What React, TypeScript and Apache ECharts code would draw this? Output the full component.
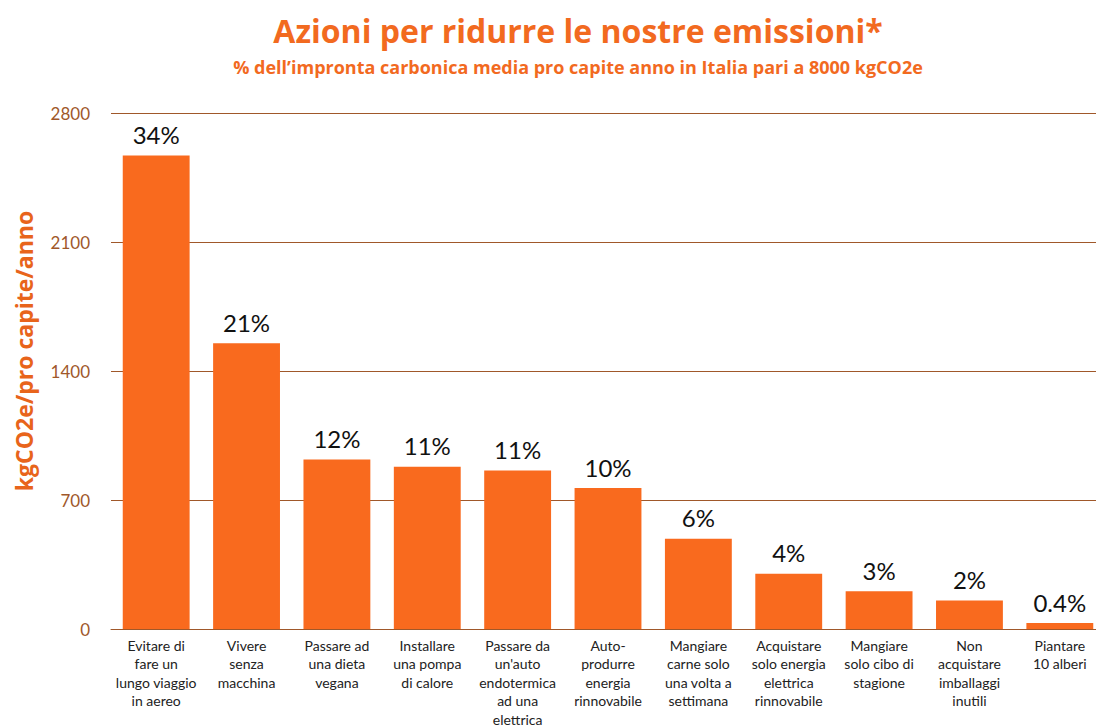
import React, { useEffect, useRef } from "react";
import * as echarts from "echarts";

const categories = [
  "Evitare di\nfare un\nlungo viaggio\nin aereo",
  "Vivere\nsenza\nmacchina",
  "Passare ad\nuna dieta\nvegana",
  "Installare\nuna pompa\ndi calore",
  "Passare da\nun'auto\nendotermica\nad una\nelettrica",
  "Auto-\nprodurre\nenergia\nrinnovabile",
  "Mangiare\ncarne solo\nuna volta a\nsettimana",
  "Acquistare\nsolo energia\nelettrica\nrinnovabile",
  "Mangiare\nsolo cibo di\nstagione",
  "Non\nacquistare\nimballaggi\ninutili",
  "Piantare\n10 alberi",
];
const values = [2570, 1550, 920, 880, 860, 765, 490, 300, 205, 155, 32];
const percentLabels = ["34%", "21%", "12%", "11%", "11%", "10%", "6%", "4%", "3%", "2%", "0.4%"];
const yTicks = [0, 700, 1400, 2100, 2800];

const ORANGE = "#F96A1E";
const TITLE_ORANGE = "#F26A1F";
const BROWN = "#A0582A";

export default function App() {
  const ref = useRef<HTMLDivElement>(null);
  useEffect(() => {
    document.body.style.margin = "0";
    document.body.style.overflow = "hidden";
    if (!ref.current) return;
    const chart = echarts.init(ref.current, undefined, { renderer: "svg" });
    chart.setOption({
      animation: false,
      graphic: [
        {
          type: "text",
          x: 578,
          y: 30,
          style: {
            text: "Azioni per ridurre le nostre emissioni*",
            align: "center",
            verticalAlign: "middle",
            fontFamily: "Open Sans",
            fontWeight: "bold",
            fontSize: 32,
            fill: TITLE_ORANGE,
          },
        },
        {
          type: "text",
          x: 578,
          y: 67,
          style: {
            text: "% dell\u2019impronta carbonica media pro capite anno in Italia pari a 8000 kgCO2e",
            align: "center",
            verticalAlign: "middle",
            fontFamily: "Open Sans",
            fontWeight: "bold",
            fontSize: 18,
            fill: TITLE_ORANGE,
          },
        },
        {
          type: "text",
          x: 24,
          y: 351,
          rotation: Math.PI / 2,
          style: {
            text: "kgCO2e/pro capite/anno",
            align: "center",
            verticalAlign: "middle",
            fontFamily: "Open Sans",
            fontWeight: "bold",
            fontSize: 23,
            fill: "#E8641B",
          },
        },
      ],
      grid: {
        left: 111,
        top: 113,
        width: 994,
        height: 516,
        containLabel: false,
        outerBoundsMode: "none",
      },
      xAxis: {
        type: "category",
        data: categories,
        axisLine: { show: true, lineStyle: { color: BROWN, width: 1 } },
        axisTick: { show: false },
        axisLabel: {
          interval: 0,
          color: "#222",
          fontFamily: "Lato",
          fontSize: 14,
          lineHeight: 18.5,
          margin: 7,
          align: "center",
        },
      },
      yAxis: {
        type: "value",
        min: 0,
        max: 2800,
        interval: 700,
        axisLine: { show: false },
        axisTick: { show: false },
        splitLine: { show: true, lineStyle: { color: BROWN, width: 1 } },
        axisLabel: {
          color: BROWN,
          fontFamily: "Lato",
          fontSize: 17,
          margin: 21,
          customValues: yTicks,
          formatter: (v: number) => String(v),
        },
      },
      series: [
        {
          type: "bar",
          data: values,
          barCategoryGap: "26%",
          itemStyle: { color: ORANGE },
          label: {
            show: true,
            position: "top",
            distance: 9,
            color: "#111",
            fontFamily: "Lato",
            fontSize: 24,
            formatter: (p: any) => percentLabels[p.dataIndex],
          },
        },
      ],
    });
    return () => chart.dispose();
  }, []);
  return <div ref={ref} style={{ width: 1096, height: 727 }} />;
}
